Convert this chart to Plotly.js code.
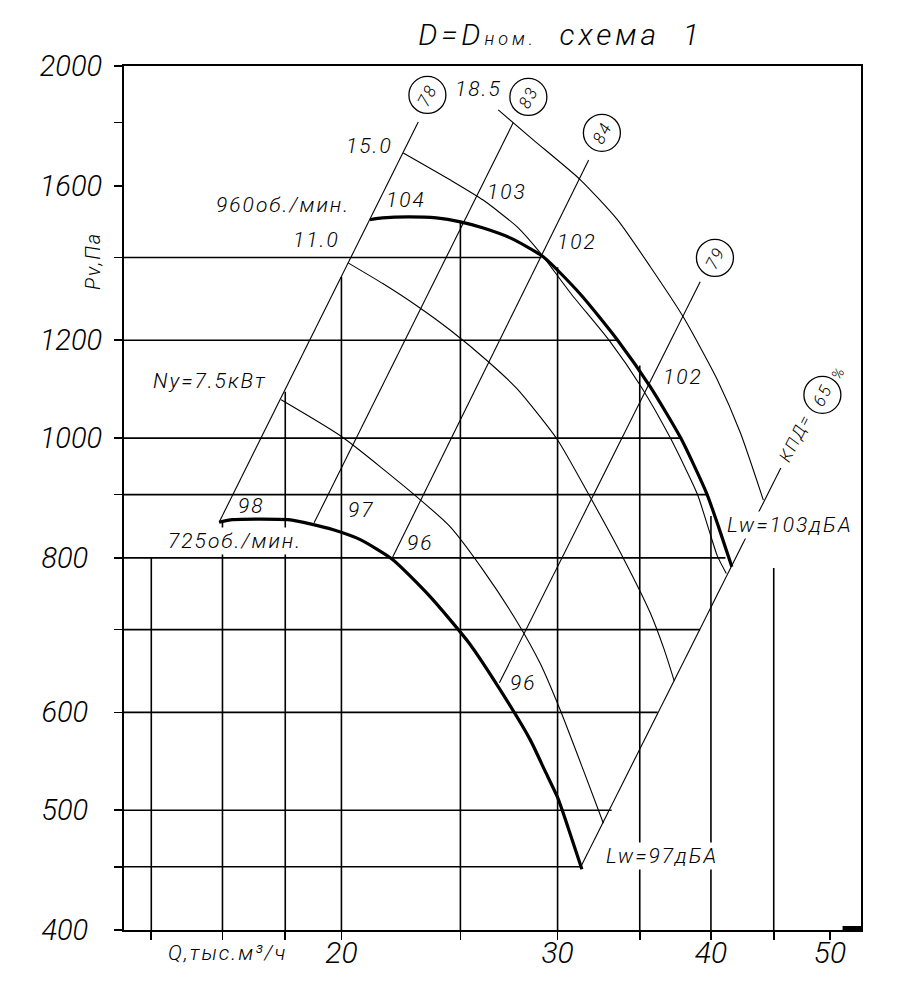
<!DOCTYPE html>
<html>
<head>
<meta charset="utf-8">
<script src="https://cdn.plot.ly/plotly-3.0.1.min.js"></script>
<style>
  html, body { margin: 0; padding: 0; background: #fff; }
  #chart { width: 904px; height: 998px; }
  .annotation-text { letter-spacing: 2px; }
  .gtitle { letter-spacing: 4px; }
</style>
</head>
<body>
<div id="chart"></div>
<script>
// Fan performance chart, D = Dnom, arrangement 1 (log-log axes Q / Pv)

// Pressure curves at two shaft speeds, Q in thousand m3/h, Pv in Pa
const q725 = [15.9, 16.3, 17.2, 18.1, 18.9, 19.7, 20.7, 22.0, 23.6, 25.4, 26.9, 28.5, 29.3, 30.0, 30.6, 31.4];
const p725 = [855, 859, 860, 859, 852, 843, 828, 798, 745, 683, 627, 570, 538, 512, 484, 448];
const q960 = [21.1, 21.6, 22.7, 23.9, 25.0, 26.1, 27.45, 29.2, 31.3, 33.6, 35.7, 37.8, 39.7, 40.6, 41.6];
const p960 = [1502, 1507, 1510, 1507, 1496, 1479, 1452, 1402, 1308, 1199, 1100, 1000, 901, 846, 787];

// Installed motor power lines (kW)
const qN75 = [17.86, 20.03, 23.05, 24.52, 26.09, 27.81, 29.04, 30.16, 31.48, 32.69];
const pN75 = [1074, 1002, 896, 848, 782, 710, 657, 602, 539, 488];
const qN110 = [20.25, 21.63, 23.05, 24.52, 26.29, 27.81, 29.99, 31.89, 33.93, 35.70, 36.65, 37.34];
const pN110 = [1386, 1333, 1279, 1223, 1155, 1096, 997, 896, 800, 722, 674, 636];
const qN150 = [22.46, 24.52, 26.09, 27.81, 29.04, 30.78, 33.06, 35.10, 37.07, 38.99, 39.80, 40.48, 41.17];
const pN150 = [1701, 1618, 1558, 1482, 1412, 1308, 1199, 1100, 1000, 901, 846, 803, 777];
const qN185 = [26.84, 28.66, 31.31, 33.56, 35.70, 37.98, 40.48, 42.27, 44.13];
const pN185 = [1843, 1743, 1618, 1502, 1376, 1253, 1115, 1010, 891];

// Efficiency rays (КПД, %): start on the 725 rpm curve, end below the circled value
const effLabels = ['78', '83', '84', '79', '65'];
const effQ0 = [15.9, 19.0, 22.0, 26.9, 31.3];
const effP0 = [855, 854, 800, 634, 449];
const effQ1 = [23.1, 27.6, 31.8, 39.2, 45.6];
const effP1 = [1802, 1799, 1679, 1338, 946];
const circQ = [23.5, 28.4, 32.6, 40.3, 49.3];
const circP = [1895, 1888, 1766, 1399, 1084];

// Grid: vertical lines (Q) run from the bottom up to a pressure, horizontal lines (Pv) run from the left to a flow
const gridQ = [14, 16, 18, 20, 25, 30, 35, 40, 45];
const gridQTop = [800, 855, 1090, 1350, 1495, 1375, 1145, 865, 785];
const gridP = [450, 500, 600, 700, 800, 900, 1000, 1200, 1400];
const gridPEnd = [31.3, 33.2, 36.2, 39.2, 41.1, 39.7, 37.8, 33.6, 29.1];

// Axis ticks
const xTicks = [14, 16, 18, 20, 25, 30, 35, 40, 45, 50];
const xTickText = ['', '', '', '20', '', '30', '', '40', '', '50'];
const yTicks = [400, 450, 500, 600, 700, 800, 900, 1000, 1200, 1400, 1600, 1800, 2000];
const yTickText = ['400', '', '500', '600', '', '800', '', '1000', '1200', '', '1600', '', '2000'];

// Text labels
const powerText = ['Ny=7.5кВт', '11.0', '15.0', '18.5'];
const powerQ = [15.63, 19.07, 21.07, 25.85];
const powerP = [1112, 1445, 1723, 1915];
const speedText = ['960об./мин.', '725об./мин.'];
const speedQ = [17.91, 16.38];
const speedP = [1544, 825];
const noiseText = ['104', '103', '102', '102', '98', '97', '96', '96'];
const noiseQ = [22.59, 27.27, 31.13, 37.95, 16.88, 20.75, 23.18, 28.15];
const noiseP = [1557, 1583, 1442, 1121, 881, 875, 823, 634];
const lwText = ['Lw=103дБА', 'Lw=97дБА'];
const lwQ = [46.38, 36.52];
const lwP = [850, 459];

const FONT = 'Roboto, "DejaVu Sans", sans-serif';
const lg = Math.log10;
const Q_MIN = Math.pow(10, 1.1239), Q_MAX = Math.pow(10, 1.7243);
function f(size) { return { family: FONT, size: size, color: '#000', style: 'italic', weight: 300 }; }

const traces = [];
function curve(q, p, w, shape) {
  traces.push({ x: q, y: p, type: 'scatter', mode: 'lines', hoverinfo: 'skip',
    line: { color: '#000', width: w, shape: shape || 'spline', smoothing: 0.6 } });
}
curve(qN75, pN75, 1.1);
curve(qN110, pN110, 1.1);
curve(qN150, pN150, 1.1);
curve(qN185, pN185, 1.1);
effLabels.forEach((_, i) => curve([effQ0[i], effQ1[i]], [effP0[i], effP1[i]], 1.1, 'linear'));
curve(q725, p725, 3.2);
curve(q960, p960, 3.2);
traces.push({ x: circQ, y: circP, type: 'scatter', mode: 'markers', hoverinfo: 'skip',
  marker: { symbol: 'circle-open', size: 37, color: '#000', line: { width: 1.3 } } });

const shapes = [];
const gl = { color: '#000', width: 1.6 };
gridQ.forEach((q, i) => shapes.push({ type: 'line', xref: 'x', yref: 'y', layer: 'below',
  x0: q, x1: q, y0: 400, y1: gridQTop[i], line: gl }));
gridP.forEach((p, i) => shapes.push({ type: 'line', xref: 'x', yref: 'y', layer: 'below',
  x0: Q_MIN, x1: gridPEnd[i], y0: p, y1: p, line: gl }));
// short heavy stroke in the lower right corner of the frame
shapes.push({ type: 'rect', xref: 'x', yref: 'y', x0: 51.2, x1: Q_MAX, y0: 400, y1: 403,
  fillcolor: '#000', line: { width: 0 } });

const ann = [];
function note(t, q, p, size, extra) {
  ann.push(Object.assign({ text: t, x: lg(q), y: lg(p), xref: 'x', yref: 'y', showarrow: false,
    xanchor: 'center', yanchor: 'middle', font: f(size) }, extra || {}));
}
powerText.forEach((t, i) => note(t, powerQ[i], powerP[i], 21));
speedText.forEach((t, i) => note(t, speedQ[i], speedP[i], 21, i === 1 ? { bgcolor: '#fff' } : {}));
noiseText.forEach((t, i) => note(t, noiseQ[i], noiseP[i], 21));
lwText.forEach((t, i) => note(t, lwQ[i], lwP[i], 21, { bgcolor: '#fff' }));
effLabels.forEach((t, i) => note(t, circQ[i], circP[i], 17, { textangle: -63 }));
note('КПД=', 46.86, 1000, 17, { textangle: -63 });
note('%', 50.79, 1129, 15, { textangle: -63 });

// axis titles
ann.push({ text: 'Q,тыс.м³/ч', xref: 'x', yref: 'paper', x: lg(16.14), y: -0.0266,
  xanchor: 'center', yanchor: 'middle', showarrow: false, font: f(21) });
ann.push({ text: 'Pv,Па', xref: 'paper', yref: 'y', x: -0.042, y: lg(1391), textangle: -90,
  xanchor: 'center', yanchor: 'middle', showarrow: false, font: f(20) });

const pad = s => s.length === 3 ? s + '\u00a0\u00a0' : s;

const layout = {
  width: 904, height: 998,
  margin: { l: 124, r: 43, t: 66, b: 68 },
  paper_bgcolor: '#fff', plot_bgcolor: '#fff',
  showlegend: false, hovermode: false,
  title: { text: 'D=D<span style="font-size:18px">ном.</span>  схема  1', font: f(30),
    x: 0.62, xanchor: 'center', y: 1 - 34 / 998, yanchor: 'middle', xref: 'container', yref: 'container' },
  xaxis: { type: 'log', range: [1.1239, 1.7243], showgrid: false, zeroline: false,
    showline: true, mirror: true, linecolor: '#000', linewidth: 2,
    ticks: 'outside', ticklen: 8, tickwidth: 1.6, tickcolor: '#000', ticklabelstandoff: -13,
    tickmode: 'array', tickvals: xTicks, ticktext: xTickText, tickfont: f(30) },
  yaxis: { type: 'log', range: [lg(400), lg(2000)], showgrid: false, zeroline: false,
    showline: true, mirror: true, linecolor: '#000', linewidth: 2,
    ticks: 'outside', ticklen: 8, tickwidth: 1.6, tickcolor: '#000', ticklabelstandoff: 6,
    tickmode: 'array', tickvals: yTicks, ticktext: yTickText.map(pad), tickfont: f(29) },
  shapes: shapes,
  annotations: ann
};

Plotly.newPlot('chart', traces, layout, { staticPlot: true, displayModeBar: false });
</script>
</body>
</html>
